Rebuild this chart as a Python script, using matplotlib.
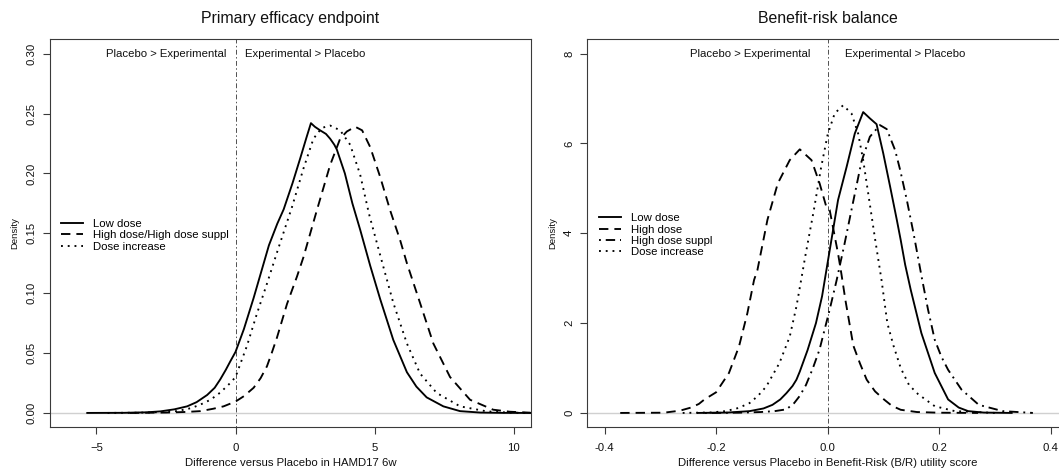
import matplotlib
matplotlib.use("Agg")
import matplotlib.pyplot as plt

plt.rcParams["font.family"] = ["Liberation Sans", "DejaVu Sans"]

# ---- Primary efficacy endpoint: posterior densities of the difference vs placebo (HAMD17 6w)
eff_low_x = [-5.33, -4.0, -3.2, -2.7, -2.2, -1.74, -1.4, -1.02, -0.75, -0.55, -0.35, -0.19, 0.0,
             0.3, 0.65, 1.0, 1.2, 1.5, 1.73, 2.05, 2.33, 2.55, 2.71, 2.85, 3.04, 3.25, 3.4, 3.55,
             3.64, 3.93, 4.2, 4.48, 4.84, 5.2, 5.67, 6.16, 6.5, 6.87, 7.47, 8.07, 8.8, 9.6, 10.6]
eff_low_y = [0.0, 0.0001, 0.0005, 0.0013, 0.003, 0.0055, 0.009, 0.015, 0.021, 0.028, 0.036, 0.043, 0.051,
             0.070, 0.096, 0.124, 0.140, 0.158, 0.170, 0.192, 0.213, 0.230, 0.242, 0.239, 0.236, 0.233, 0.229, 0.224,
             0.220, 0.200, 0.175, 0.153, 0.123, 0.095, 0.061, 0.034, 0.022, 0.013, 0.0055, 0.0015, 0.0003, 0.00005, 0.0]

eff_high_x = [-3.8, -2.5, -1.8, -1.26, -0.8, -0.43, 0.0, 0.3, 0.65, 0.9, 1.13, 1.3, 1.49, 1.85, 2.21,
              2.44, 2.92, 3.4, 3.76, 4.0, 4.3, 4.55, 4.84, 5.2, 5.56, 5.92, 6.16, 6.63, 7.11, 7.71, 8.43,
              9.26, 9.86, 10.6]
eff_high_y = [0.0, 0.0003, 0.0008, 0.0015, 0.0035, 0.0055, 0.0095, 0.014, 0.021, 0.029, 0.039, 0.050, 0.063,
              0.091, 0.114, 0.130, 0.169, 0.207, 0.229, 0.235, 0.239, 0.236, 0.222, 0.197, 0.169, 0.144, 0.125,
              0.092, 0.058, 0.030, 0.011, 0.0027, 0.001, 0.0002]

eff_incr_x = [-4.6, -3.5, -2.8, -2.1, -1.6, -1.26, -0.9, -0.55, -0.19, 0.0, 0.41, 0.77, 1.13, 1.49, 2.03,
              2.44, 2.8, 3.1, 3.4, 3.76, 4.12, 4.48, 4.8, 5.29, 5.67, 6.16, 6.63, 7.23, 8.07, 9.03, 9.8, 10.6]
eff_incr_y = [0.0, 0.0002, 0.0006, 0.0015, 0.004, 0.007, 0.011, 0.017, 0.025, 0.030, 0.056, 0.083, 0.108,
              0.134, 0.172, 0.204, 0.229, 0.238, 0.240, 0.236, 0.224, 0.199, 0.166, 0.124, 0.092, 0.058, 0.033,
              0.0167, 0.0055, 0.0013, 0.0003, 0.0]

# ---- Benefit-risk balance: posterior densities of the B/R utility score difference
br_low_x = [-0.233, -0.18, -0.14, -0.115, -0.099, -0.085, -0.074, -0.063, -0.056, -0.05, -0.036, -0.021,
            -0.01, 0.0, 0.0067, 0.0186, 0.034, 0.0486, 0.0637, 0.0757, 0.0877, 0.0997, 0.112, 0.124, 0.131,
            0.139, 0.149, 0.168, 0.192, 0.216, 0.235, 0.252, 0.28, 0.33]
br_low_y = [0.0, 0.008, 0.04, 0.10, 0.18, 0.30, 0.44, 0.60, 0.74, 0.92, 1.40, 2.0,
            2.6, 3.35, 3.85, 4.74, 5.48, 6.22, 6.70, 6.56, 6.43, 5.78, 5.04, 4.30, 3.85,
            3.3, 2.74, 1.78, 0.89, 0.30, 0.12, 0.04, 0.008, 0.0]

br_high_x = [-0.372, -0.294, -0.265, -0.245, -0.231, -0.221, -0.2, -0.177, -0.159, -0.144, -0.132, -0.126,
             -0.108, -0.0895, -0.068, -0.05, -0.029, -0.0144, -0.0024, 0.0036, 0.0186, 0.0246, 0.032, 0.046,
             0.058, 0.07, 0.085, 0.101, 0.115, 0.131, 0.16, 0.2, 0.27]
br_high_y = [0.0, 0.005, 0.05, 0.12, 0.20, 0.30, 0.46, 0.89, 1.48, 2.22, 2.96, 3.18,
             4.30, 5.11, 5.63, 5.87, 5.63, 5.11, 4.59, 4.52, 3.55, 3.1, 2.5, 1.5,
             1.1, 0.74, 0.48, 0.30, 0.16, 0.07, 0.02, 0.005, 0.0]

br_suppl_x = [-0.22, -0.16, -0.12, -0.095, -0.074, -0.06, -0.05, -0.039, -0.027, -0.0146, 0.0036, 0.016,
              0.03, 0.0427, 0.0607, 0.0757, 0.0937, 0.106, 0.121, 0.13, 0.142, 0.154, 0.169, 0.18, 0.192,
              0.204, 0.216, 0.24, 0.271, 0.314, 0.368]
br_suppl_y = [0.0, 0.005, 0.02, 0.04, 0.08, 0.22, 0.38, 0.62, 0.98, 1.41, 2.3, 2.95,
              3.75, 4.52, 5.6, 6.15, 6.41, 6.32, 5.85, 5.41, 4.74, 4.0, 3.0, 2.3, 1.63,
              1.25, 0.96, 0.52, 0.18, 0.04, 0.0]

br_incr_x = [-0.26, -0.21, -0.183, -0.16, -0.14, -0.125, -0.11, -0.0865, -0.068, -0.056, -0.047, -0.04,
             -0.025, -0.012, 0.0, 0.0126, 0.0276, 0.0427, 0.0547, 0.0637, 0.0727, 0.0847, 0.0967, 0.107,
             0.118, 0.131, 0.146, 0.162, 0.192, 0.228, 0.3]
br_incr_y = [0.0, 0.01, 0.04, 0.11, 0.22, 0.38, 0.59, 1.11, 1.70, 2.37, 3.0, 3.5,
             4.5, 5.45, 6.2, 6.67, 6.85, 6.67, 6.22, 5.63, 4.89, 3.9, 2.95, 2.0,
             1.5, 1.0, 0.62, 0.42, 0.15, 0.04, 0.0]

eff_labels = ["Low dose", "High dose/High dose suppl", "Dose increase"]
br_labels = ["Low dose", "High dose", "High dose suppl", "Dose increase"]

eff_xticks = [-5, 0, 5, 10]
eff_yticks = [0.00, 0.05, 0.10, 0.15, 0.20, 0.25, 0.30]
br_xticks = [-0.4, -0.2, 0.0, 0.2, 0.4]
br_yticks = [0, 2, 4, 6, 8]

# line styles (R lty 1, 2, 4, 3)
SOLID = "-"
DASHED = (0, (5, 3.2))
DOTTED = (0, (1, 2.6))
DASHDOT = (0, (1, 2.6, 5, 2.6))
LW = 1.35
FS = 8.2
FRAME = "#3a3a3a"

fig = plt.figure(figsize=(10.59, 4.72), dpi=100)
ax1 = fig.add_axes([0.0472, 0.0947, 0.4542, 0.822])
ax2 = fig.add_axes([0.5546, 0.0947, 0.4539, 0.822])


def style_axes(ax, xlim, ylim, xticks, yticks, ylabels, xlabel, title):
    ax.set_xlim(*xlim)
    ax.set_ylim(*ylim)
    ax.axhline(0, color="#d0d0d0", lw=1.0, zorder=1)
    ax.axvline(0, color="#505050", lw=0.7, ls=(0, (1.5, 2.5, 5, 2.5)), zorder=1)
    for s in ax.spines.values():
        s.set_color(FRAME)
        s.set_linewidth(0.8)
    ax.set_xticks(xticks)
    ax.set_yticks(yticks)
    ax.set_yticklabels(ylabels, rotation=90, va="center")
    ax.tick_params(direction="out", length=5, width=0.8, color=FRAME,
                   labelsize=FS, labelcolor="#111111")
    ax.tick_params(axis="x", pad=6.5)
    ax.tick_params(axis="y", pad=4.5)
    ax.set_xlabel(xlabel, fontsize=FS, color="#111111")
    ax.xaxis.label.set_va("center")
    ax.xaxis.set_label_coords(0.5, -0.0928)
    ax.set_ylabel("Density", fontsize=6.8, color="#111111")
    ax.yaxis.label.set_va("center")
    ax.yaxis.set_label_coords(-0.0728, 0.5)
    ax.text(0.5, 1.0549, title, transform=ax.transAxes, ha="center", va="center",
            fontsize=11.4, color="#111111")


# left panel
style_axes(ax1, (-6.67, 10.62), (-0.012, 0.312), eff_xticks, eff_yticks,
           [f"{v:.2f}" for v in eff_yticks],
           "Difference versus Placebo in HAMD17 6w", "Primary efficacy endpoint")
ax1.plot(eff_low_x, eff_low_y, color="black", lw=LW, ls=SOLID, label=eff_labels[0], zorder=3)
ax1.plot(eff_high_x, eff_high_y, color="black", lw=LW, ls=DASHED, label=eff_labels[1], zorder=3)
ax1.plot(eff_incr_x, eff_incr_y, color="black", lw=LW, ls=DOTTED, label=eff_labels[2], zorder=3)
ax1.annotate("Placebo > Experimental", (0, 0.30), xytext=(-6.8, 0), textcoords="offset points",
             ha="right", va="center", fontsize=FS, color="#111111")
ax1.annotate("Experimental > Placebo", (0, 0.30), xytext=(6.8, 0), textcoords="offset points",
             ha="left", va="center", fontsize=FS, color="#111111")
ax1.legend(loc="upper left", bbox_to_anchor=(0.0229, 0.5371), frameon=False, fontsize=FS,
           handlelength=1.91, handletextpad=0.93, labelspacing=0.13, borderpad=0, borderaxespad=0)

# right panel
style_axes(ax2, (-0.431, 0.431), (-0.32, 8.32), br_xticks, br_yticks,
           [str(v) for v in br_yticks],
           "Difference versus Placebo in Benefit-Risk (B/R) utility score", "Benefit-risk balance")
ax2.set_xticklabels([f"{v:.1f}" for v in br_xticks])
ax2.plot(br_low_x, br_low_y, color="black", lw=LW, ls=SOLID, label=br_labels[0], zorder=3)
ax2.plot(br_high_x, br_high_y, color="black", lw=LW, ls=DASHED, label=br_labels[1], zorder=3)
ax2.plot(br_suppl_x, br_suppl_y, color="black", lw=LW, ls=DASHDOT, label=br_labels[2], zorder=3)
ax2.plot(br_incr_x, br_incr_y, color="black", lw=LW, ls=DOTTED, label=br_labels[3], zorder=3)
ax2.annotate("Placebo > Experimental", (0, 8), xytext=(-12.2, 0), textcoords="offset points",
             ha="right", va="center", fontsize=FS, color="#111111")
ax2.annotate("Experimental > Placebo", (0, 8), xytext=(12.2, 0), textcoords="offset points",
             ha="left", va="center", fontsize=FS, color="#111111")
ax2.legend(loc="upper left", bbox_to_anchor=(0.0243, 0.5512), frameon=False, fontsize=FS,
           handlelength=1.91, handletextpad=0.93, labelspacing=0.1, borderpad=0, borderaxespad=0)

fig.savefig("out.png", dpi=100)
